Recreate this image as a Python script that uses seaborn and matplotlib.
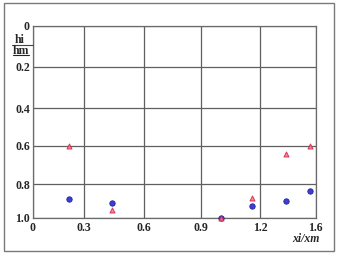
import numpy as np
import pandas as pd
import matplotlib
matplotlib.use("Agg")
import matplotlib.pyplot as plt
import seaborn as sns
from matplotlib.patches import Rectangle
from matplotlib.lines import Line2D

# ---- data ----
x_circle = [0.21, 0.44, 1.00, 1.16, 1.39, 1.56]
y_circle = [0.89, 0.91, 1.00, 0.93, 0.90, 0.84]
x_tri = [0.21, 0.44, 1.00, 1.16, 1.39, 1.56]
y_tri = [0.60, 0.955, 1.00, 0.88, 0.64, 0.60]
x_ticks = [0, 0.3, 0.6, 0.9, 1.2, 1.6]
x_ticklabels = ["0", "0.3", "0.6", "0.9", "1.2", "1.6"]
y_ticks = [0, 0.2, 0.4, 0.6, 0.8, 1.0]
y_ticklabels = ["0", "0.2", "0.4", "0.6", "0.8", "1.0"]

# grid line positions of the (hand-drawn) axes, relative units
x_grid_pos = [0, 51.6, 111, 168.6, 227.3, 283]
y_grid_pos = [0, 41, 82.6, 120.3, 158.6, 191.8]

sns.set_style("white")
plt.rcParams["font.family"] = ["Liberation Serif", "DejaVu Serif"]

W, H = 340, 258
fig = plt.figure(figsize=(W / 100, H / 100), dpi=100)
ax = fig.add_axes([32.7 / W, 1 - 217.5 / H, 283 / W, 191.8 / H])


def _mk(src, dst):
    src = np.asarray(src, float)
    dst = np.asarray(dst, float)

    def f(v):
        v = np.asarray(v, float)
        out = np.interp(v, src, dst)
        lo = v < src[0]
        hi = v > src[-1]
        out = np.where(lo, dst[0] + (v - src[0]) * (dst[1] - dst[0]) / (src[1] - src[0]), out)
        out = np.where(hi, dst[-1] + (v - src[-1]) * (dst[-1] - dst[-2]) / (src[-1] - src[-2]), out)
        return out
    return f


ax.set_xscale("function", functions=(_mk(x_ticks, x_grid_pos), _mk(x_grid_pos, x_ticks)))
ax.set_yscale("function", functions=(_mk(y_ticks, y_grid_pos), _mk(y_grid_pos, y_ticks)))

df_c = pd.DataFrame({"x": x_circle, "y": y_circle})
df_t = pd.DataFrame({"x": x_tri, "y": y_tri})

sns.scatterplot(data=df_c, x="x", y="y", ax=ax, marker="o", s=15,
                color="#3b3fd6", edgecolor="#22229a", linewidth=0.6,
                zorder=3, clip_on=False)
sns.scatterplot(data=df_t, x="x", y="y", ax=ax, marker="^", s=13,
                color="#ec7c8a", edgecolor="#d02040", linewidth=0.7,
                alpha=0.85, zorder=4, clip_on=False)

ax.set_xlim(0, 1.6)
ax.set_ylim(1.0, 0)
ax.set_xticks(x_ticks)
ax.set_xticklabels(x_ticklabels)
ax.set_yticks(y_ticks)
ax.set_yticklabels(y_ticklabels)
ax.minorticks_off()
ax.tick_params(axis="both", length=0, labelsize=8.5)
ax.tick_params(axis="x", pad=3)
ax.tick_params(axis="y", pad=2)
for lab in ax.get_xticklabels() + ax.get_yticklabels():
    lab.set_fontweight("bold")
ax.grid(True, color="#5f5f5f", linewidth=0.9)
for sp in ax.spines.values():
    sp.set_color("#6a6a6a")
    sp.set_linewidth(0.9)
ax.set_xlabel("")
ax.set_ylabel("")

# axis labels
fig.text(306 / W, 1 - 239 / H, "xi/xm", fontsize=8.5, fontweight="bold",
         fontstyle="italic", ha="center", va="center")
fig.text(20 / W, 1 - 40 / H, "hi", fontsize=8.5, fontweight="bold",
         ha="center", va="center")
fig.text(21 / W, 1 - 51 / H, "hm", fontsize=8.5, fontweight="bold",
         ha="center", va="center")
fig.add_artist(Line2D([12 / W, 33 / W], [1 - 44.5 / H, 1 - 44.5 / H],
                      color="#444444", linewidth=0.8))
fig.add_artist(Line2D([13 / W, 29 / W], [1 - 55 / H, 1 - 55 / H],
                      color="#222222", linewidth=0.8))

# outer frame
fig.add_artist(Rectangle((4 / W, 1 - 251 / H), 330 / W, 248 / H,
                         transform=fig.transFigure, fill=False,
                         edgecolor="#7a7a7a", linewidth=1.0))

fig.savefig("out.png", dpi=100)
